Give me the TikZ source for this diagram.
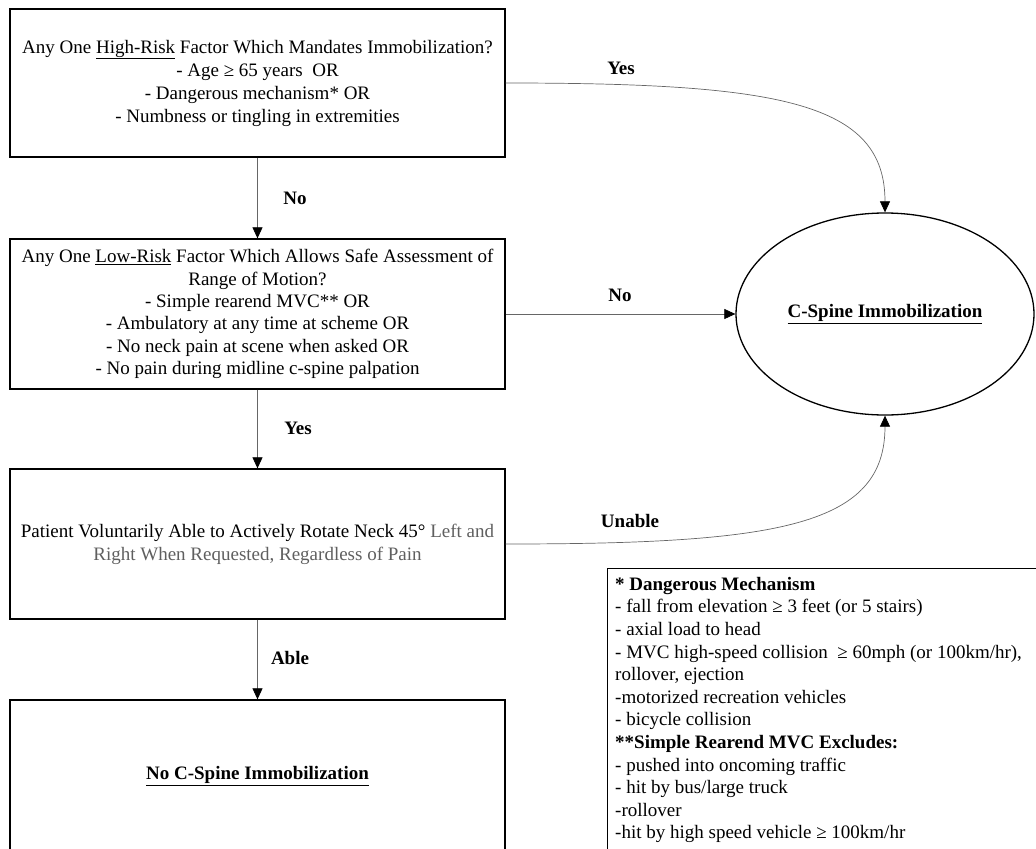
\documentclass[tikz,border=0pt]{standalone}
\usepackage{fontspec}
\setmainfont{Liberation Serif}
\usetikzlibrary{arrows.meta,shapes.geometric}
\definecolor{conngray}{HTML}{666666}
\definecolor{txtgray}{HTML}{5F5F5F}
\begin{document}
\begin{tikzpicture}[x=1bp,y=-1bp,
  font=\fontsize{19bp}{23bp}\selectfont,
  stepbox/.style={draw=black, line width=1.3bp, minimum width=495bp, align=center, inner sep=0pt},
  conn/.style={draw=conngray, line width=0.7bp, -{Triangle[length=11bp,width=10bp,color=black]}},
  lab/.style={font=\fontsize{19bp}{23bp}\selectfont\bfseries, inner sep=0pt},
  ]
\path[use as bounding box] (0,0) rectangle (1036,849);
\clip (0,0) rectangle (1036,849);

\node[stepbox, minimum height=148bp] (b1) at (257.5,83)
  {Any One \underline{High-Risk} Factor Which Mandates Immobilization?\\
   - Age ≥ 65 years\ \ OR\\
   - Dangerous mechanism* OR\\
   - Numbness or tingling in extremities};

\node[stepbox, minimum height=150bp, font=\fontsize{19bp}{22.3bp}\selectfont] (b2) at (257.5,314)
  {Any One \underline{Low-Risk} Factor Which Allows Safe Assessment of\\
   Range of Motion?\\
   - Simple rearend MVC** OR\\
   - Ambulatory at any time at scheme OR\\
   - No neck pain at scene when asked OR\\
   - No pain during midline c-spine palpation};

\node[stepbox, minimum height=150bp] (b3) at (257.5,544)
  {Patient Voluntarily Able to Actively Rotate Neck 45° \textcolor{txtgray}{Left and}\\
   \textcolor{txtgray}{Right When Requested, Regardless of Pain}};

\node[stepbox, minimum height=152bp] (b4) at (257.5,776)
  {\textbf{\underline{No C-Spine Immobilization}}};

\node[ellipse, draw=black, line width=1.3bp, minimum width=298bp, minimum height=202bp, inner sep=0pt] (ell) at (885,314)
  {\textbf{\underline{C-Spine Immobilization}}};

\node[draw=black, line width=1.3bp, anchor=north west, minimum width=440bp, minimum height=300bp, inner sep=0pt] (leg) at (607,568) {};
\node[anchor=north west, align=left, inner sep=0pt, font=\fontsize{19bp}{22.6bp}\selectfont] (legtext) at (615,577)
  {\textbf{* Dangerous Mechanism}\\
   - fall from elevation ≥ 3 feet (or 5 stairs)\\
   - axial load to head\\
   - MVC high-speed collision\ \ ≥ 60mph (or 100km/hr),\\
   rollover, ejection\\
   -motorized recreation vehicles\\
   - bicycle collision\\
   \textbf{**Simple Rearend MVC Excludes:}\\
   - pushed into oncoming traffic\\
   - hit by bus/large truck\\
   -rollover\\
   -hit by high speed vehicle ≥ 100km/hr};

\draw[conn] (b1.south) -- (b2.north);
\draw[conn] (b2.south) -- (b3.north);
\draw[conn] (b3.south) -- (b4.north);
\draw[conn] (b1.east) .. controls +(275,0) and +(0,-110) .. (ell.north);
\draw[conn] (b2.east) -- (ell.west);
\draw[conn] (b3.east) .. controls +(275,0) and +(0,110) .. (ell.south);

\node[lab] (lno1) at (295,198) {No};
\node[lab] (lyes1) at (298,428) {Yes};
\node[lab] (lable) at (290,658) {Able};
\node[lab] (lyes2) at (621,68) {Yes};
\node[lab] (lno2) at (620,295) {No};
\node[lab] (lunable) at (630,521) {Unable};
\end{tikzpicture}
\end{document}
